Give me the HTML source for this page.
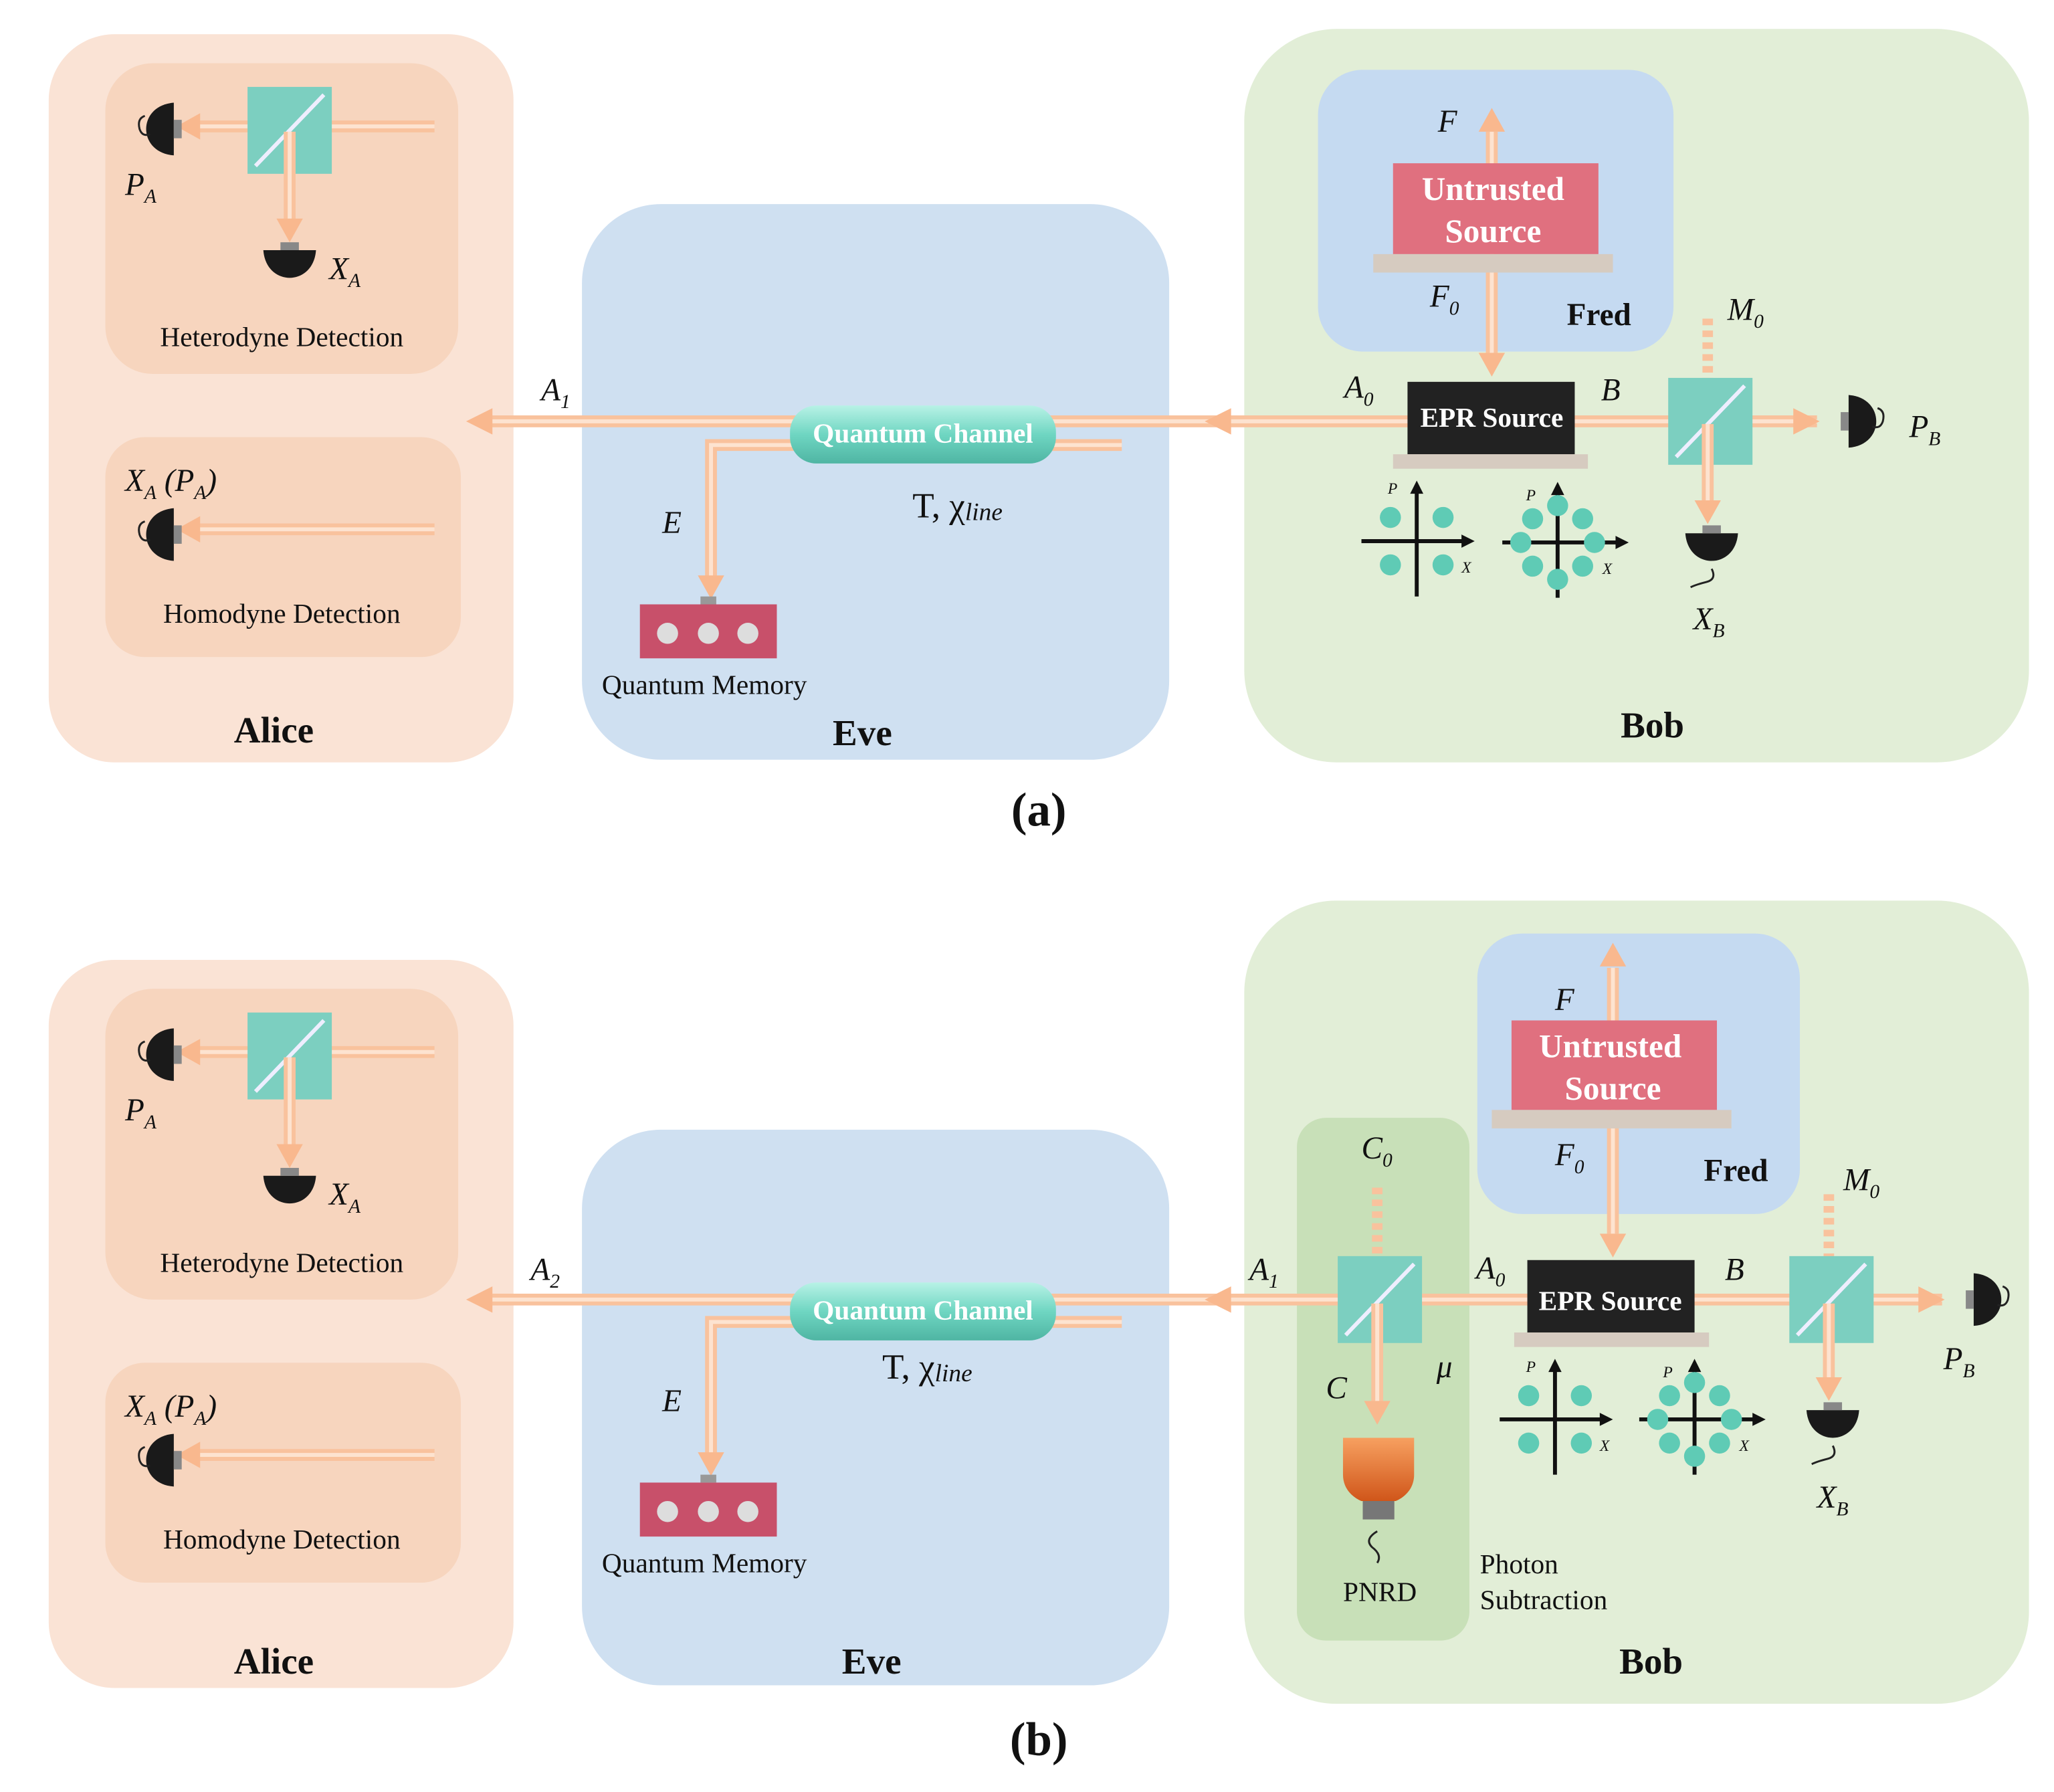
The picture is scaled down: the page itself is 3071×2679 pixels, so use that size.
<!DOCTYPE html>
<html><head><meta charset="utf-8"><style>
html,body{margin:0;padding:0;background:#fff;}
svg{display:block}
text{font-family:"Liberation Serif",serif;fill:#111}
.i{font-style:italic}
.b{font-weight:bold}
</style></head><body>
<svg width="3071" height="2679" viewBox="0 0 1560 1361" preserveAspectRatio="none" xmlns="http://www.w3.org/2000/svg">
<defs>
<linearGradient id="qc" x1="0" y1="0" x2="0" y2="1"><stop offset="0" stop-color="#b8f2e6"/><stop offset="0.5" stop-color="#6fd6c2"/><stop offset="1" stop-color="#4fb5a3"/></linearGradient>
<linearGradient id="pn" x1="0" y1="0" x2="0" y2="1"><stop offset="0" stop-color="#f7a060"/><stop offset="1" stop-color="#d0561a"/></linearGradient>
<g id="bs"><rect x="0" y="0" width="64" height="66" fill="#7ccfc0"/><line x1="6" y1="60" x2="58" y2="6" stroke="#eef" stroke-width="3"/></g>
<g id="detL"><path d="M0,-20 C-28,-18 -28,18 0,20 Z" fill="#1a1a1a"/><rect x="0" y="-7" width="6" height="14" fill="#888"/><path d="M-22,-10 q-6,2 -4,10 q2,6 8,4" fill="none" stroke="#222" stroke-width="1.5"/></g>
<g id="detD"><path d="M-20,0 C-18,28 18,28 20,0 Z" fill="#1a1a1a"/><rect x="-7" y="-6" width="14" height="6" fill="#888"/></g>
<g id="mem"><rect x="0" y="0" width="104" height="41" fill="#c8506a"/><rect x="46" y="-6" width="12" height="6" fill="#999"/><circle cx="21" cy="22" r="8" fill="#ddd"/><circle cx="52" cy="22" r="8" fill="#ddd"/><circle cx="82" cy="22" r="8" fill="#ddd"/></g>
<g id="ph1"><line x1="-42" y1="0" x2="38" y2="0" stroke="#111" stroke-width="3"/><polygon points="44,0 34,-5 34,5" fill="#111"/><line x1="0" y1="42" x2="0" y2="-38" stroke="#111" stroke-width="3"/><polygon points="0,-46 -5,-36 5,-36" fill="#111"/><circle cx="-20" cy="-18" r="8" fill="#5fcbb5"/><circle cx="20" cy="-18" r="8" fill="#5fcbb5"/><circle cx="-20" cy="18" r="8" fill="#5fcbb5"/><circle cx="20" cy="18" r="8" fill="#5fcbb5"/><text x="-22" y="-36" class="i" font-size="12">P</text><text x="34" y="24" class="i" font-size="12">X</text></g>
<g id="ph2"><line x1="-42" y1="0" x2="48" y2="0" stroke="#111" stroke-width="3"/><polygon points="54,0 44,-5 44,5" fill="#111"/><line x1="0" y1="42" x2="0" y2="-38" stroke="#111" stroke-width="3"/><polygon points="0,-46 -5,-36 5,-36" fill="#111"/><circle cx="0" cy="-28" r="8" fill="#5fcbb5"/><circle cx="0" cy="28" r="8" fill="#5fcbb5"/><circle cx="-28" cy="0" r="8" fill="#5fcbb5"/><circle cx="28" cy="0" r="8" fill="#5fcbb5"/><circle cx="-19" cy="-18" r="8" fill="#5fcbb5"/><circle cx="19" cy="-18" r="8" fill="#5fcbb5"/><circle cx="-19" cy="18" r="8" fill="#5fcbb5"/><circle cx="19" cy="18" r="8" fill="#5fcbb5"/><text x="-24" y="-32" class="i" font-size="12">P</text><text x="34" y="24" class="i" font-size="12">X</text></g>
</defs>

<!-- ===== (a) ===== -->
<rect x="37" y="26" width="353" height="553" rx="50" fill="#fae3d5"/>
<rect x="80" y="48" width="268" height="236" rx="36" fill="#f7d5be"/>
<rect x="80" y="332" width="270" height="167" rx="30" fill="#f7d5be"/>
<rect x="442" y="155" width="446" height="422" rx="60" fill="#cfe0f1"/>
<rect x="945" y="22" width="596" height="557" rx="70" fill="#e2eed7"/>
<rect x="1001" y="53" width="270" height="214" rx="34" fill="#c5daf1"/>

<!-- Alice heterodyne -->
<g stroke-linecap="butt">
<line x1="330" y1="96" x2="150" y2="96" stroke="#f9c29d" stroke-width="9"/><line x1="330" y1="96" x2="150" y2="96" stroke="#fde3d0" stroke-width="3"/>
<polygon points="134,96 152,86 152,106" fill="#f9b88e"/>
<use href="#bs" x="188" y="66"/>
<line x1="220" y1="100" x2="220" y2="170" stroke="#f9c29d" stroke-width="9"/><line x1="220" y1="100" x2="220" y2="170" stroke="#fde3d0" stroke-width="3"/>
<polygon points="220,184 210,166 230,166" fill="#f9b88e"/>
<line x1="330" y1="402" x2="150" y2="402" stroke="#f9c29d" stroke-width="9"/><line x1="330" y1="402" x2="150" y2="402" stroke="#fde3d0" stroke-width="3"/>
<polygon points="134,402 152,392 152,412" fill="#f9b88e"/>
</g>
<use href="#detL" x="132" y="98"/>
<use href="#detD" x="220" y="190"/>
<use href="#detL" x="132" y="406"/>
<text x="95" y="148" class="i" font-size="24">P<tspan font-size="15" dy="6">A</tspan></text>
<text x="250" y="212" class="i" font-size="24">X<tspan font-size="15" dy="6">A</tspan></text>
<text x="214" y="263" font-size="21" text-anchor="middle">Heterodyne Detection</text>
<text x="95" y="373" class="i" font-size="24">X<tspan font-size="15" dy="6">A</tspan><tspan dy="-6"> (P</tspan><tspan font-size="15" dy="6">A</tspan><tspan dy="-6">)</tspan></text>
<text x="214" y="473" font-size="21" text-anchor="middle">Homodyne Detection</text>
<text x="208" y="564" font-size="28" class="b" text-anchor="middle">Alice</text>

<!-- main beam a -->
<line x1="370" y1="320" x2="1380" y2="320" stroke="#f9c29d" stroke-width="9"/><line x1="370" y1="320" x2="1380" y2="320" stroke="#fde3d0" stroke-width="3"/>
<polygon points="354,320 374,310 374,330" fill="#f9b88e"/>
<polygon points="915,320 935,310 935,330" fill="#f9b88e"/>
<polygon points="1382,320 1362,310 1362,330" fill="#f9b88e"/>
<path d="M852,338 L540,338 L540,440" fill="none" stroke="#f9c29d" stroke-width="9"/><path d="M852,338 L540,338 L540,440" fill="none" stroke="#fde3d0" stroke-width="3"/>
<polygon points="540,455 530,437 550,437" fill="#f9b88e"/>
<rect x="600" y="308" width="202" height="44" rx="20" fill="url(#qc)"/>
<text x="701" y="336" font-size="21" class="b" fill="#fff" text-anchor="middle" style="fill:#fff">Quantum Channel</text>
<text x="411" y="304" class="i" font-size="24">A<tspan font-size="15" dy="6">1</tspan></text>
<text x="503" y="405" class="i" font-size="24">E</text>
<text x="693" y="393" font-size="27">T, χ<tspan font-size="19" class="i" dy="2">line</tspan></text>
<use href="#mem" x="486" y="459"/>
<text x="535" y="527" font-size="21" text-anchor="middle">Quantum Memory</text>
<text x="655" y="566" font-size="28" class="b" text-anchor="middle">Eve</text>

<!-- Bob a -->
<line x1="1133" y1="100" x2="1133" y2="268" stroke="#f9c29d" stroke-width="9"/><line x1="1133" y1="100" x2="1133" y2="268" stroke="#fde3d0" stroke-width="3"/>
<polygon points="1133,82 1123,100 1143,100" fill="#f9b88e"/>
<polygon points="1133,286 1123,268 1143,268" fill="#f9b88e"/>
<rect x="1058" y="124" width="156" height="69" fill="#e0707f"/>
<rect x="1043" y="193" width="182" height="14" fill="#d6cbc0"/>
<text x="1134" y="152" font-size="25" class="b" text-anchor="middle" style="fill:#fff">Untrusted</text>
<text x="1134" y="184" font-size="25" class="b" text-anchor="middle" style="fill:#fff">Source</text>
<text x="1092" y="100" class="i" font-size="24">F</text>
<text x="1086" y="233" class="i" font-size="24">F<tspan font-size="15" dy="6">0</tspan></text>
<text x="1190" y="247" font-size="24" class="b">Fred</text>
<rect x="1069" y="290" width="127" height="55" fill="#222"/>
<rect x="1058" y="345" width="148" height="11" fill="#d6cbc0"/>
<text x="1133" y="324" font-size="21" class="b" text-anchor="middle" style="fill:#fff">EPR Source</text>
<text x="1021" y="302" class="i" font-size="24">A<tspan font-size="15" dy="6">0</tspan></text>
<text x="1216" y="304" class="i" font-size="24">B</text>
<line x1="1297" y1="242" x2="1297" y2="318" stroke="#f9c29d" stroke-width="8" stroke-dasharray="5,4"/>
<use href="#bs" x="1267" y="287"/>
<line x1="1297" y1="322" x2="1297" y2="384" stroke="#f9c29d" stroke-width="9"/><line x1="1297" y1="322" x2="1297" y2="384" stroke="#fde3d0" stroke-width="3"/>
<polygon points="1297,398 1287,380 1307,380" fill="#f9b88e"/>
<use href="#detD" x="1300" y="405"/>
<path d="M1300,432 q4,8 -4,10 q-8,2 -12,4" fill="none" stroke="#222" stroke-width="1.5"/>
<g transform="translate(1400,320) scale(-1,1)"><use href="#detL" x="-4" y="0"/></g>
<text x="1312" y="243" class="i" font-size="24">M<tspan font-size="15" dy="6">0</tspan></text>
<text x="1450" y="332" class="i" font-size="24">P<tspan font-size="15" dy="6">B</tspan></text>
<text x="1286" y="478" class="i" font-size="24">X<tspan font-size="15" dy="6">B</tspan></text>
<use href="#ph1" x="1076" y="411"/>
<use href="#ph2" x="1183" y="412"/>
<text x="1255" y="560" font-size="28" class="b" text-anchor="middle">Bob</text>
<text x="789" y="627" font-size="36" class="b" text-anchor="middle">(a)</text>

<!-- ===== (b) ===== -->
<rect x="37" y="729" width="353" height="553" rx="50" fill="#fae3d5"/>
<rect x="80" y="751" width="268" height="236" rx="36" fill="#f7d5be"/>
<rect x="80" y="1035" width="270" height="167" rx="30" fill="#f7d5be"/>
<rect x="442" y="858" width="446" height="422" rx="60" fill="#cfe0f1"/>
<rect x="945" y="684" width="596" height="610" rx="70" fill="#e2eed7"/>
<rect x="1122" y="709" width="245" height="213" rx="34" fill="#c5daf1"/>
<rect x="985" y="849" width="131" height="397" rx="22" fill="#c8e0b8"/>

<g>
<line x1="330" y1="799" x2="150" y2="799" stroke="#f9c29d" stroke-width="9"/><line x1="330" y1="799" x2="150" y2="799" stroke="#fde3d0" stroke-width="3"/>
<polygon points="134,799 152,789 152,809" fill="#f9b88e"/>
<use href="#bs" x="188" y="769"/>
<line x1="220" y1="803" x2="220" y2="873" stroke="#f9c29d" stroke-width="9"/><line x1="220" y1="803" x2="220" y2="873" stroke="#fde3d0" stroke-width="3"/>
<polygon points="220,887 210,869 230,869" fill="#f9b88e"/>
<line x1="330" y1="1105" x2="150" y2="1105" stroke="#f9c29d" stroke-width="9"/><line x1="330" y1="1105" x2="150" y2="1105" stroke="#fde3d0" stroke-width="3"/>
<polygon points="134,1105 152,1095 152,1115" fill="#f9b88e"/>
</g>
<use href="#detL" x="132" y="801"/>
<use href="#detD" x="220" y="893"/>
<use href="#detL" x="132" y="1109"/>
<text x="95" y="851" class="i" font-size="24">P<tspan font-size="15" dy="6">A</tspan></text>
<text x="250" y="915" class="i" font-size="24">X<tspan font-size="15" dy="6">A</tspan></text>
<text x="214" y="966" font-size="21" text-anchor="middle">Heterodyne Detection</text>
<text x="95" y="1076" class="i" font-size="24">X<tspan font-size="15" dy="6">A</tspan><tspan dy="-6"> (P</tspan><tspan font-size="15" dy="6">A</tspan><tspan dy="-6">)</tspan></text>
<text x="214" y="1176" font-size="21" text-anchor="middle">Homodyne Detection</text>
<text x="208" y="1271" font-size="28" class="b" text-anchor="middle">Alice</text>

<line x1="370" y1="987" x2="1475" y2="987" stroke="#f9c29d" stroke-width="9"/><line x1="370" y1="987" x2="1475" y2="987" stroke="#fde3d0" stroke-width="3"/>
<polygon points="354,987 374,977 374,997" fill="#f9b88e"/>
<polygon points="915,987 935,977 935,997" fill="#f9b88e"/>
<polygon points="1477,987 1457,977 1457,997" fill="#f9b88e"/>
<path d="M852,1004 L540,1004 L540,1106" fill="none" stroke="#f9c29d" stroke-width="9"/><path d="M852,1004 L540,1004 L540,1106" fill="none" stroke="#fde3d0" stroke-width="3"/>
<polygon points="540,1121 530,1103 550,1103" fill="#f9b88e"/>
<rect x="600" y="974" width="202" height="44" rx="20" fill="url(#qc)"/>
<text x="701" y="1002" font-size="21" class="b" text-anchor="middle" style="fill:#fff">Quantum Channel</text>
<text x="403" y="972" class="i" font-size="24">A<tspan font-size="15" dy="6">2</tspan></text>
<text x="503" y="1072" class="i" font-size="24">E</text>
<text x="670" y="1047" font-size="27">T, χ<tspan font-size="19" class="i" dy="2">line</tspan></text>
<use href="#mem" x="486" y="1126"/>
<text x="535" y="1194" font-size="21" text-anchor="middle">Quantum Memory</text>
<text x="662" y="1271" font-size="28" class="b" text-anchor="middle">Eve</text>

<!-- Bob b -->
<line x1="1225" y1="735" x2="1225" y2="937" stroke="#f9c29d" stroke-width="9"/><line x1="1225" y1="735" x2="1225" y2="937" stroke="#fde3d0" stroke-width="3"/>
<polygon points="1225,716 1215,734 1235,734" fill="#f9b88e"/>
<polygon points="1225,955 1215,937 1235,937" fill="#f9b88e"/>
<rect x="1148" y="775" width="156" height="68" fill="#e0707f"/>
<rect x="1133" y="843" width="182" height="14" fill="#d6cbc0"/>
<text x="1223" y="803" font-size="25" class="b" text-anchor="middle" style="fill:#fff">Untrusted</text>
<text x="1225" y="835" font-size="25" class="b" text-anchor="middle" style="fill:#fff">Source</text>
<text x="1181" y="767" class="i" font-size="24">F</text>
<text x="1181" y="885" class="i" font-size="24">F<tspan font-size="15" dy="6">0</tspan></text>
<text x="1294" y="897" font-size="24" class="b">Fred</text>
<rect x="1160" y="957" width="127" height="55" fill="#222"/>
<rect x="1150" y="1012" width="148" height="11" fill="#d6cbc0"/>
<text x="1223" y="995" font-size="21" class="b" text-anchor="middle" style="fill:#fff">EPR Source</text>
<text x="1121" y="971" class="i" font-size="24">A<tspan font-size="15" dy="6">0</tspan></text>
<text x="1310" y="972" class="i" font-size="24">B</text>
<text x="949" y="972" class="i" font-size="24">A<tspan font-size="15" dy="6">1</tspan></text>
<!-- PNRD side -->
<line x1="1046" y1="902" x2="1046" y2="985" stroke="#f9c29d" stroke-width="8" stroke-dasharray="5,4"/>
<use href="#bs" x="1016" y="954"/>
<line x1="1046" y1="990" x2="1046" y2="1066" stroke="#f9c29d" stroke-width="9"/><line x1="1046" y1="990" x2="1046" y2="1066" stroke="#fde3d0" stroke-width="3"/>
<polygon points="1046,1082 1036,1064 1056,1064" fill="#f9b88e"/>
<path d="M1020,1092 L1074,1092 L1074,1120 C1074,1135 1060,1140 1060,1140 L1034,1140 C1034,1140 1020,1135 1020,1120 Z" fill="url(#pn)"/>
<rect x="1035" y="1140" width="24" height="14" fill="#777"/>
<path d="M1046,1163 q-10,6 -4,12 q8,6 4,12" fill="none" stroke="#222" stroke-width="1.5"/>
<text x="1034" y="880" class="i" font-size="24">C<tspan font-size="15" dy="6">0</tspan></text>
<text x="1007" y="1062" class="i" font-size="24">C</text>
<text x="1091" y="1046" class="i" font-size="24">μ</text>
<text x="1048" y="1216" font-size="21" text-anchor="middle">PNRD</text>
<text x="1124" y="1195" font-size="21">Photon</text>
<text x="1124" y="1222" font-size="21">Subtraction</text>
<line x1="1389" y1="907" x2="1389" y2="985" stroke="#f9c29d" stroke-width="8" stroke-dasharray="5,4"/>
<use href="#bs" x="1359" y="954"/>
<line x1="1389" y1="990" x2="1389" y2="1050" stroke="#f9c29d" stroke-width="9"/><line x1="1389" y1="990" x2="1389" y2="1050" stroke="#fde3d0" stroke-width="3"/>
<polygon points="1389,1064 1379,1046 1399,1046" fill="#f9b88e"/>
<use href="#detD" x="1392" y="1071"/>
<path d="M1392,1098 q4,8 -4,10 q-8,2 -12,4" fill="none" stroke="#222" stroke-width="1.5"/>
<g transform="translate(1495,987) scale(-1,1)"><use href="#detL" x="-4" y="0"/></g>
<text x="1400" y="904" class="i" font-size="24">M<tspan font-size="15" dy="6">0</tspan></text>
<text x="1476" y="1040" class="i" font-size="24">P<tspan font-size="15" dy="6">B</tspan></text>
<text x="1380" y="1145" class="i" font-size="24">X<tspan font-size="15" dy="6">B</tspan></text>
<use href="#ph1" x="1181" y="1078"/>
<use href="#ph2" x="1287" y="1078"/>
<text x="1254" y="1271" font-size="28" class="b" text-anchor="middle">Bob</text>
<text x="789" y="1333" font-size="36" class="b" text-anchor="middle">(b)</text>
</svg>
</body></html>
